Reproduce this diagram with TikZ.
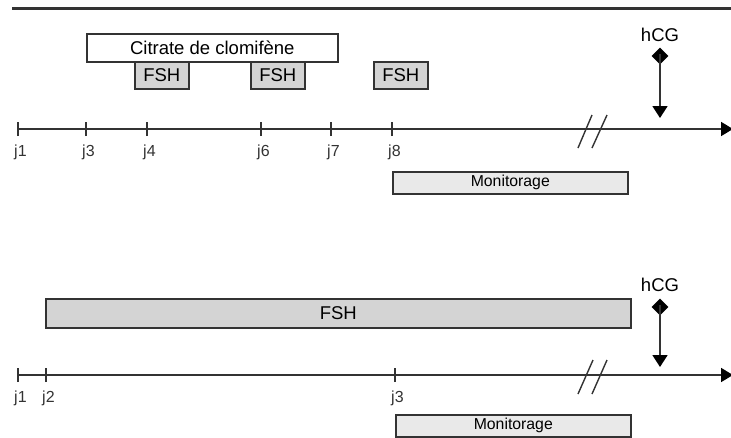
\documentclass[tikz,border=0pt]{standalone}
\usepackage{fontspec}
\setmainfont{Liberation Sans}
\usetikzlibrary{shapes.geometric,arrows.meta}
\definecolor{ln}{HTML}{333333}
\definecolor{gbox}{HTML}{D4D4D4}
\definecolor{lbox}{HTML}{E9E9E9}
\tikzset{
  box/.style={draw=ln,line width=1.6pt,anchor=north west,inner sep=0pt,font=\fontsize{18.5}{20}\selectfont},
  fshbox/.style={box,fill=gbox},
  monbox/.style={box,fill=lbox,font=\fontsize{15.8}{17}\selectfont},
  axisline/.style={draw=ln,line width=1.7pt,-{Triangle[width=14pt,length=12pt,color=black]}},
  tick/.style={draw=ln,line width=1.6pt},
  daylbl/.style={anchor=north west,inner sep=0pt,font=\fontsize{16}{18}\selectfont,text=ln},
  hcglbl/.style={inner sep=0pt,font=\fontsize{18.5}{20}\selectfont,text=black},
  dia/.style={diamond,fill=black,inner sep=0pt,minimum width=17pt,minimum height=17pt},
  hcgarrow/.style={draw=ln,line width=1.7pt,-{Triangle[width=15pt,length=12pt,color=black]},shorten <=-2pt},
  brk/.style={draw=ln,line width=1.4pt}
}
\begin{document}
\begin{tikzpicture}[x=1pt,y=-1pt]
\useasboundingbox (0,0) rectangle (731,437);
% top rule
\coordinate (rl) at (12,8);
\coordinate (rr) at (731,8);
\draw[ln,line width=3pt] (rl) -- (rr);

% ===== top panel =====
\node[box,fill=white,minimum width=251pt,minimum height=28pt] (cit) at (86,33) {Citrate de clomifène};
\node[fshbox,minimum width=54pt,minimum height=27pt] (f1) at (134,61) {FSH};
\node[fshbox,minimum width=54pt,minimum height=27pt] (f2) at (250,61) {FSH};
\node[fshbox,minimum width=54pt,minimum height=27pt] (f3) at (373,61) {FSH};

\coordinate (a1s) at (18,129);
\coordinate (a1e) at (733,129);
\draw[axisline] (a1s) -- (a1e);
\foreach \n/\x in {j1/18,j3/86,j4/147,j6/261,j7/331,j8/392}{
  \coordinate (t1\n) at (\x,129);
  \draw[tick] ([yshift=-7pt]t1\n) -- ([yshift=7pt]t1\n);
  \node[daylbl] (l1\n) at (\x-4,145) {\n};
}
\coordinate (b1a) at (578,148); \coordinate (b1b) at (592,115);
\coordinate (b1c) at (592,148); \coordinate (b1d) at (607,115);
\draw[brk] (b1a) -- (b1b);
\draw[brk] (b1c) -- (b1d);

\node[hcglbl] (h1) at (660,35) {hCG};
\node[dia] (d1) at (660,56) {};
\coordinate (h1tip) at (660,118);
\draw[hcgarrow] (d1.center) -- (h1tip);

\node[monbox,minimum width=235pt,minimum height=22pt] (m1) at (392,171) {Monitorage};

% ===== bottom panel =====
\node[fshbox,minimum width=585pt,minimum height=29pt] (fb) at (45,298) {FSH};

\coordinate (a2s) at (18,375);
\coordinate (a2e) at (733,375);
\draw[axisline] (a2s) -- (a2e);
\foreach \n/\x in {j1/18,j2/46,j3/395}{
  \coordinate (t2\n) at (\x,375);
  \draw[tick] ([yshift=-7pt]t2\n) -- ([yshift=7pt]t2\n);
  \node[daylbl] (l2\n) at (\x-4,391) {\n};
}
\coordinate (b2a) at (578,394); \coordinate (b2b) at (593,360);
\coordinate (b2c) at (592,394); \coordinate (b2d) at (607,360);
\draw[brk] (b2a) -- (b2b);
\draw[brk] (b2c) -- (b2d);

\node[hcglbl] (h2) at (660,285) {hCG};
\node[dia] (d2) at (660,307) {};
\coordinate (h2tip) at (660,367);
\draw[hcgarrow] (d2.center) -- (h2tip);

\node[monbox,minimum width=235pt,minimum height=22pt] (m2) at (395,414) {Monitorage};
\end{tikzpicture}
\end{document}
